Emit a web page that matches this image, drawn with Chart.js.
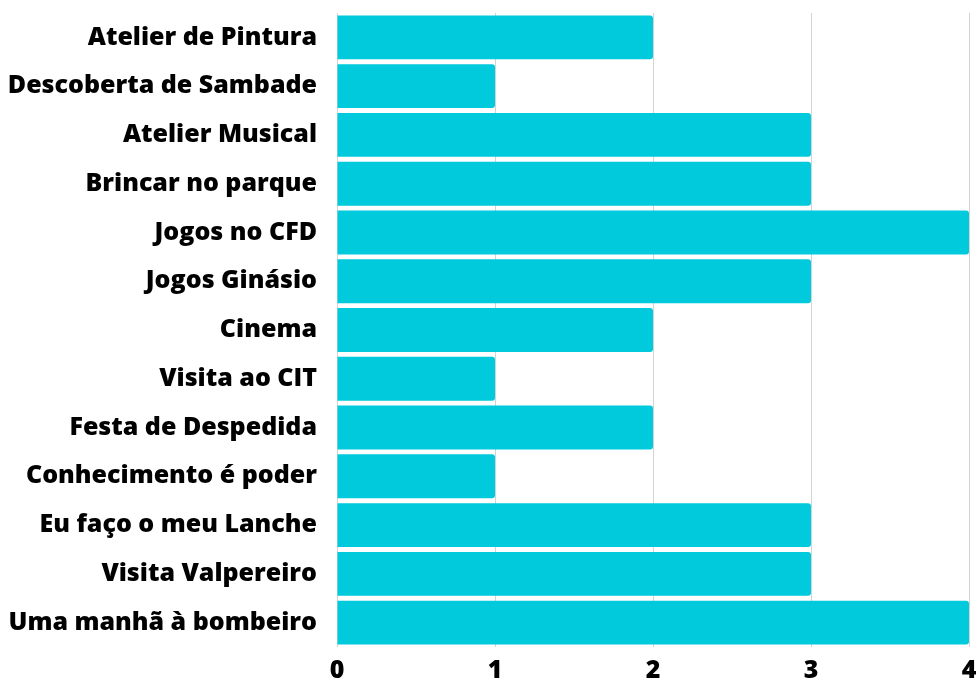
<!DOCTYPE html>
<html lang="pt">
<head>
    <meta charset="UTF-8">
    <title>Atividades</title>
    <script src="https://cdn.jsdelivr.net/npm/chart.js@4"></script>
    <style>
        html, body { margin: 0; padding: 0; background: #fff; }
        .chart-box { width: 978px; height: 684px; position: relative; }
    </style>
</head>
<body>
    <div class="chart-box">
        <canvas id="chart"></canvas>
    </div>
    <script>
        const activities = [
            'Atelier de Pintura',
            'Descoberta de Sambade',
            'Atelier Musical',
            'Brincar no parque',
            'Jogos no CFD',
            'Jogos Ginásio',
            'Cinema',
            'Visita ao CIT',
            'Festa de Despedida',
            'Conhecimento é poder',
            'Eu faço o meu Lanche',
            'Visita Valpereiro',
            'Uma manhã à bombeiro'
        ];
        const counts = [2, 1, 3, 3, 4, 3, 2, 1, 2, 1, 3, 3, 4];
        const xTicks = [0, 1, 2, 3, 4];

        const labelFont = { family: "'Open Sans', sans-serif", size: 25, weight: 800 };

        new Chart(document.getElementById('chart'), {
            type: 'bar',
            data: {
                labels: activities,
                datasets: [{
                    data: counts,
                    backgroundColor: '#00CADC',
                    borderRadius: 3,
                    borderSkipped: 'start',
                    categoryPercentage: 0.9,
                    barPercentage: 1
                }]
            },
            options: {
                indexAxis: 'y',
                responsive: true,
                maintainAspectRatio: false,
                animation: false,
                layout: { padding: { top: 13, right: 9, left: 0, bottom: 0 } },
                plugins: {
                    legend: { display: false },
                    tooltip: { enabled: false }
                },
                scales: {
                    x: {
                        min: xTicks[0],
                        max: xTicks[xTicks.length - 1],
                        afterBuildTicks: scale => { scale.ticks = xTicks.map(v => ({ value: v })); },
                        afterFit: scale => {
                            scale.height = 37;
                            scale.paddingLeft = 0;
                            scale.paddingRight = 0;
                        },
                        grid: { color: '#d3d3d3', drawTicks: false, lineWidth: 1 },
                        border: { display: false },
                        ticks: { color: '#000', font: labelFont, padding: 9 }
                    },
                    y: {
                        afterFit: scale => {
                            scale.width = 337;
                            scale.paddingTop = 0;
                            scale.paddingBottom = 0;
                        },
                        grid: { display: false, drawTicks: false },
                        border: { display: false },
                        ticks: { color: '#000', font: labelFont, padding: 20 }
                    }
                }
            }
        });
    </script>
</body>
</html>
